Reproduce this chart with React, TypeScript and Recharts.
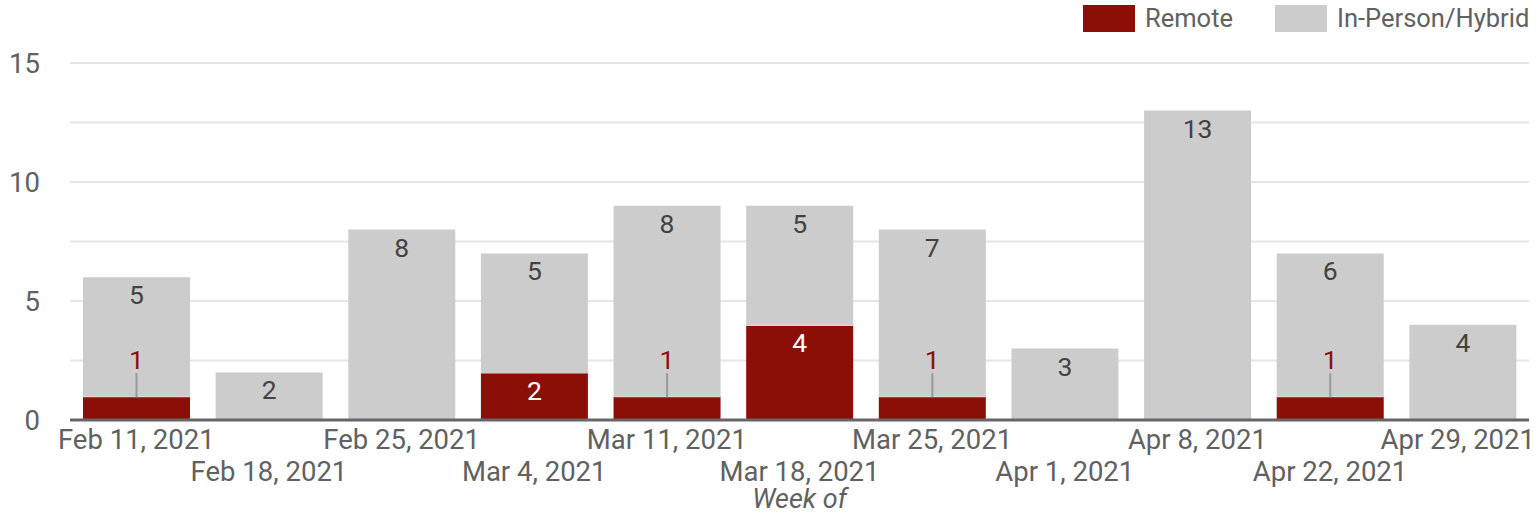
import React from 'react';
import { BarChart, Bar, XAxis, YAxis, CartesianGrid, LabelList, ReferenceLine, Label } from 'recharts';

const weeks = ['Feb 11, 2021', 'Feb 18, 2021', 'Feb 25, 2021', 'Mar 4, 2021', 'Mar 11, 2021', 'Mar 18, 2021', 'Mar 25, 2021', 'Apr 1, 2021', 'Apr 8, 2021', 'Apr 22, 2021', 'Apr 29, 2021'];
const remote = [1, 0, 0, 2, 1, 4, 1, 0, 0, 1, 0];
const inPerson = [5, 2, 8, 5, 8, 5, 7, 3, 13, 6, 4];
const yTicks = [0, 2.5, 5, 7.5, 10, 12.5, 15];

const RED = '#8B0F07';
const GRAY = '#CCCCCC';
const FONT = 'Roboto, "Noto Sans", sans-serif';
const TICK_FS = 27.5;
const LBL_FS = 26.5;

const data = weeks.map((w, i) => ({ week: w, remote: remote[i], inPerson: inPerson[i] }));

const XTick = (props: any) => {
  const { x, y, payload, index } = props;
  const dy = index % 2 === 0 ? 29 : 61;
  const isLast = index === weeks.length - 1;
  return (
    <text x={isLast ? 1535 : x} y={y + dy} textAnchor={isLast ? 'end' : 'middle'} fill="#616161" fontSize={TICK_FS} fontFamily={FONT}>
      {payload.value}
    </text>
  );
};

const YTick = (props: any) => {
  const { y, payload } = props;
  if (payload.value % 5 !== 0) return null;
  return (
    <text x={40} y={y + 10} textAnchor="end" fill="#616161" fontSize={TICK_FS} fontFamily={FONT}>
      {payload.value}
    </text>
  );
};

const RemoteShape = (props: any) => {
  const { x, y, width, height } = props;
  if (!height || height <= 0) return null;
  return (
    <g>
      <rect x={x} y={y} width={width} height={height} fill={RED} />
      <rect x={x} y={y} width={width} height={1} fill="#ffffff" />
    </g>
  );
};

const RemoteLabel = (props: any) => {
  const { x, y, width, value } = props;
  if (!value) return null;
  const cx = x + width / 2;
  if (value === 1) {
    return (
      <g>
        <line x1={cx} x2={cx} y1={y - 23} y2={y + 1} stroke="#999999" strokeWidth={2} />
        <text x={cx} y={y - 27} textAnchor="middle" fill={RED} fontSize={LBL_FS} fontFamily={FONT}>
          {value}
        </text>
      </g>
    );
  }
  return (
    <text x={cx} y={y + 27.5} textAnchor="middle" fill="#ffffff" fontSize={LBL_FS} fontFamily={FONT}>
      {value}
    </text>
  );
};

const InPersonLabel = (props: any) => {
  const { x, y, width, value } = props;
  if (!value) return null;
  return (
    <text x={x + width / 2} y={y + 27} textAnchor="middle" fill="#424242" fontSize={LBL_FS} fontFamily={FONT}>
      {value}
    </text>
  );
};

const LegendBox = () => (
  <div style={{ position: 'absolute', left: 0, top: 0, width: 1537, height: 40, fontFamily: FONT, fontSize: 25.5, color: '#616161' }}>
    <div style={{ position: 'absolute', left: 1083, top: 5, width: 52, height: 27, background: RED }} />
    <div style={{ position: 'absolute', left: 1145, top: 3, lineHeight: '30px' }}>Remote</div>
    <div style={{ position: 'absolute', left: 1275, top: 5, width: 52, height: 27, background: GRAY }} />
    <div style={{ position: 'absolute', left: 1337, top: 3, lineHeight: '30px' }}>In-Person/Hybrid</div>
  </div>
);

export default function App() {
  return (
    <div style={{ position: 'absolute', left: 0, top: 0, width: 1537, height: 515, background: '#fff' }}>
      <BarChart
        width={1537}
        height={515}
        data={data}
        margin={{ top: 63, right: 8, left: 0, bottom: 0 }}
        barCategoryGap={13}
      >
        <CartesianGrid vertical={false} stroke="#e6e6e6" strokeWidth={2} />
        <YAxis
          width={70}
          domain={[0, 15]}
          ticks={yTicks}
          interval={0}
          axisLine={false}
          tickLine={false}
          tick={<YTick />}
        />
        <XAxis
          dataKey="week"
          height={95}
          interval={0}
          axisLine={false}
          tickLine={false}
          tickSize={0}
          tickMargin={0}
          tick={<XTick />}
        >
          <Label
            content={(p: any) => {
              const vb = p.viewBox;
              return (
                <text x={vb.x + vb.width / 2} y={508} textAnchor="middle" fill="#616161" fontSize={27} fontStyle="italic" fontFamily={FONT}>
                  Week of
                </text>
              );
            }}
          />
        </XAxis>
        <Bar dataKey="remote" stackId="a" fill={RED} isAnimationActive={false} shape={<RemoteShape />}>
          <LabelList dataKey="remote" content={<RemoteLabel />} />
        </Bar>
        <Bar dataKey="inPerson" stackId="a" fill={GRAY} isAnimationActive={false}>
          <LabelList dataKey="inPerson" content={<InPersonLabel />} />
        </Bar>
        <ReferenceLine y={0} stroke="#666666" strokeWidth={3} />
      </BarChart>
      <LegendBox />
    </div>
  );
}
